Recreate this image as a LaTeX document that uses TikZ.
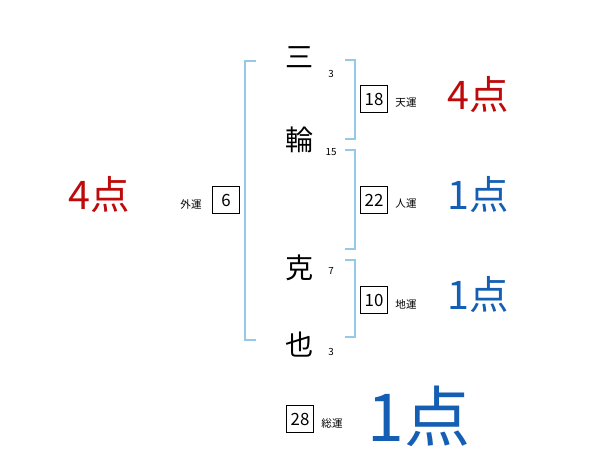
\documentclass[tikz,border=0pt]{standalone}
\usepackage{fontspec}
\setmainfont{Noto Sans CJK JP}
\definecolor{kredd}{RGB}{190,10,10}
\definecolor{kblue}{RGB}{20,95,180}
\definecolor{kline}{RGB}{150,200,232}

\begin{document}
\begin{tikzpicture}[x=0.025cm,y=-0.025cm,
    kanji/.style={font=\fontsize{20}{20}\selectfont},
    kaku/.style={font=\fontsize{7}{7}\selectfont},
    unbox/.style={draw=black,thin,minimum width=19pt,minimum height=19pt,inner sep=0pt,font=\fontsize{12}{12}\selectfont},
    unlabel/.style={font=\fontsize{7.5}{7.5}\selectfont},
    score/.style={font=\fontsize{28}{28}\selectfont},
    bracket/.style={draw=kline,line width=1.2pt}]
    \useasboundingbox (0,0) rectangle (600,470);
    % name
    \node[kanji] (c1) at (300,57) {三};
    \node[kanji] (c2) at (300,140) {輪};
    \node[kanji] (c3) at (300,268) {克};
    \node[kanji] (c4) at (300,345) {也};
    \node[kaku] (k1) at (331,74) {3};
    \node[kaku] (k2) at (331,152) {15};
    \node[kaku] (k3) at (331,271) {7};
    \node[kaku] (k4) at (331,352) {3};
    % brackets
    \draw[bracket] (256,61) -- (245,61) -- (245,340) -- (256,340);
    \draw[bracket] (345,60) -- (355,60) -- (355,139) -- (345,139);
    \draw[bracket] (345,150) -- (355,150) -- (355,249) -- (345,249);
    \draw[bracket] (345,260) -- (355,260) -- (355,337) -- (345,337);
    % right side
    \node[unbox] (ten) at (374,99) {18};
    \node[unbox] (jin) at (374,200) {22};
    \node[unbox] (chi) at (374,300) {10};
    \node[unlabel] at (406,103) {天運};
    \node[unlabel] at (406,204) {人運};
    \node[unlabel] at (406,304) {地運};
    \node[score,text=kredd] (tenp) at (478,95) {4点};
    \node[score,text=kblue] (jinp) at (478,195) {1点};
    \node[score,text=kblue] (chip) at (478,295) {1点};
    % left side
    \node[unbox] (gai) at (226,200) {6};
    \node[unlabel] at (191,204) {外運};
    \node[score,text=kredd] (gaip) at (99,195) {4点};
    % total
    \node[unbox] (sou) at (300,419) {28};
    \node[unlabel] at (332,423) {総運};
    \node[score,text=kblue,font=\fontsize{47}{47}\selectfont] (soup) at (419,416) {1点};
\end{tikzpicture}
\end{document}
